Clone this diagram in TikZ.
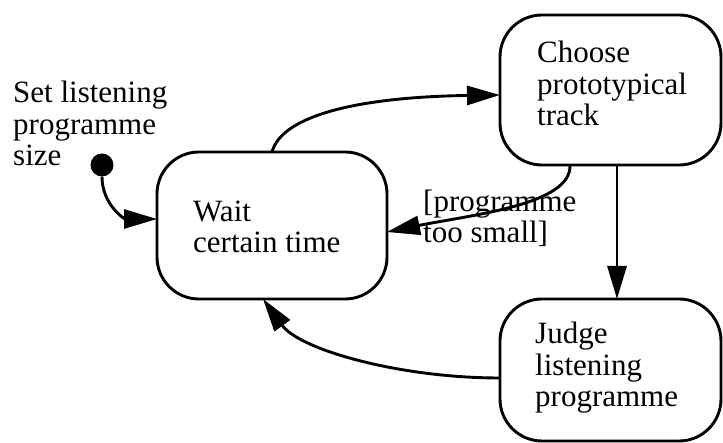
\documentclass[tikz,border=0pt]{standalone}
\usepackage{fontspec}
\setmainfont{Liberation Serif}
\usetikzlibrary{arrows.meta}
\begin{document}
\begin{tikzpicture}[x=1pt,y=-1pt,
  state/.style={draw,line width=2.9pt,rounded corners=42pt,inner sep=0pt,outer sep=0pt},
  % base west = baseline of the last line of a multi-line node
  txt/.style={anchor=base west,align=left,inner sep=0pt,font=\fontsize{31}{31.5}\selectfont},
  flow/.style={line width=2.9pt,-{Triangle[length=33pt,width=19pt]}},
  startdot/.style={circle,fill,inner sep=0pt,minimum size=23pt}]
\useasboundingbox (0,0) rectangle (723,443);

% states
\node[state,minimum width=230pt,minimum height=147pt] (wait) at (272,225.5) {};
\node[state,minimum width=221pt,minimum height=150pt] (choose) at (610.5,90) {};
\node[state,minimum width=221pt,minimum height=142pt] (judge) at (610.5,370) {};
\node[startdot] (init) at (102,165) {};

% texts
\node[txt] (tinit) at (13,166) {Set listening\\programme\\size};
\node[txt] (twait) at (193,253) {Wait\\certain time};
\node[txt] (tchoose) at (537,126) {Choose\\prototypical\\track};
\node[txt] (tjudge) at (535,407) {Judge\\listening\\programme};
\node[txt] (guard) at (423,243) {[programme\\too small]};

% transitions
\draw[flow] (init) .. controls (102,205) and (125,219) .. ([yshift=6.5pt]wait.west);
\draw[flow] (wait.north) .. controls (282,115) and (360,97) .. ([yshift=-5pt]choose.west);
\draw[flow] ([xshift=-40.5pt]choose.south) .. controls (572,205) and (470,215) .. ([yshift=-6.5pt]wait.east);
\draw[flow] ([xshift=6.5pt]choose.south) -- ([xshift=6.5pt]judge.north);
\draw[flow] ([yshift=-8pt]judge.west) .. controls (400,378) and (300,350) .. ([xshift=-9pt]wait.south);
\end{tikzpicture}
\end{document}
